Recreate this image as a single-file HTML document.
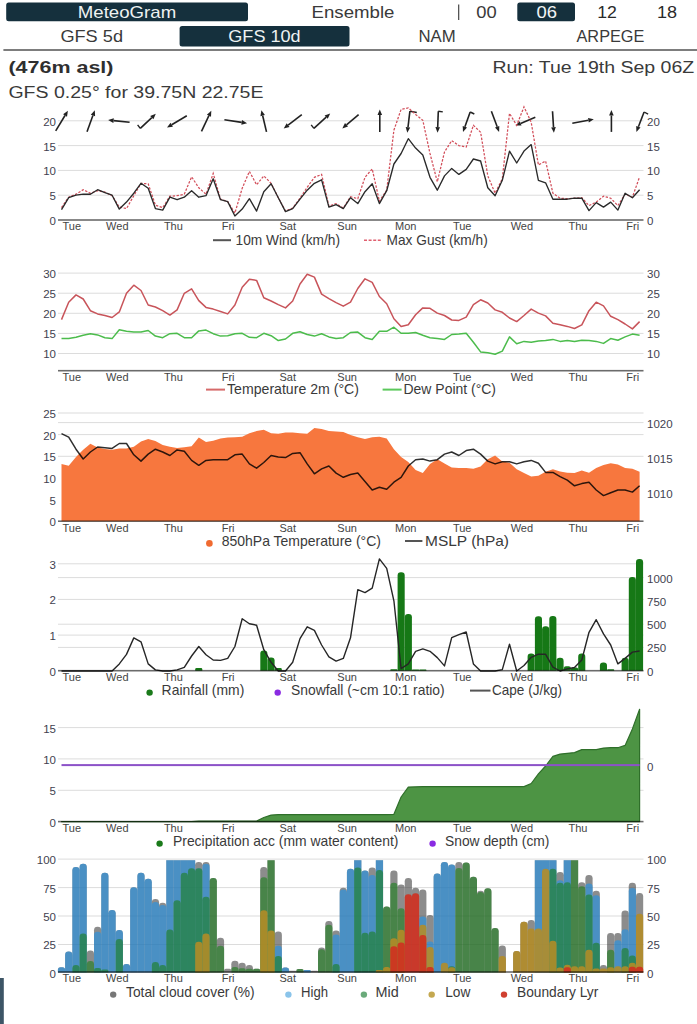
<!DOCTYPE html>
<html><head><meta charset="utf-8"><title>MeteoGram</title>
<style>
html,body{margin:0;padding:0;background:#fff;}
body{width:697px;height:1024px;overflow:hidden;font-family:"Liberation Sans", sans-serif;}
svg{display:block;}
text{font-family:"Liberation Sans", sans-serif;}
</style></head><body>
<svg width="697" height="1024" viewBox="0 0 697 1024">
<rect width="697" height="1024" fill="#fff"/>
<rect x="6.2" y="2.4" width="241.8" height="18.8" rx="2.5" fill="#15303d"/>
<rect x="179.6" y="26.1" width="169.9" height="20.5" rx="2.5" fill="#15303d"/>
<rect x="517.3" y="2.4" width="57.7" height="18.8" rx="2.5" fill="#15303d"/>
<text x="77.8" y="18.0" font-size="16.2" fill="#eef2f2" text-anchor="start" textLength="98.4" lengthAdjust="spacingAndGlyphs">MeteoGram</text>
<text x="311.6" y="18.0" font-size="16.2" fill="#3a3a3a" text-anchor="start" textLength="82.8" lengthAdjust="spacingAndGlyphs">Ensemble</text>
<rect x="458.0" y="4.5" width="1.3" height="15.5" fill="#555"/>
<text x="476.2" y="18.0" font-size="16.2" fill="#3a3a3a" text-anchor="start" textLength="20.4" lengthAdjust="spacingAndGlyphs">00</text>
<text x="536.4" y="18.0" font-size="16.2" fill="#f2f4f4" text-anchor="start" textLength="20.5" lengthAdjust="spacingAndGlyphs">06</text>
<text x="597.2" y="18.0" font-size="16.2" fill="#2a2a2a" text-anchor="start" textLength="19.7" lengthAdjust="spacingAndGlyphs">12</text>
<text x="657.0" y="18.0" font-size="16.2" fill="#2a2a2a" text-anchor="start" textLength="20.1" lengthAdjust="spacingAndGlyphs">18</text>
<text x="60.4" y="42.2" font-size="16.2" fill="#3a3a3a" text-anchor="start" textLength="62.6" lengthAdjust="spacingAndGlyphs">GFS 5d</text>
<text x="228.3" y="42.2" font-size="16.2" fill="#eef2f2" text-anchor="start" textLength="72.4" lengthAdjust="spacingAndGlyphs">GFS 10d</text>
<text x="418.5" y="42.2" font-size="16.2" fill="#3a3a3a" text-anchor="start" textLength="37.2" lengthAdjust="spacingAndGlyphs">NAM</text>
<text x="576.5" y="42.2" font-size="16.2" fill="#3a3a3a" text-anchor="start" textLength="67.9" lengthAdjust="spacingAndGlyphs">ARPEGE</text>
<rect x="3.4" y="49.0" width="693.6" height="2.0" fill="#7d7d7d"/>
<text x="8.4" y="72.5" font-size="16" fill="#2f2f2f" text-anchor="start" font-weight="bold" textLength="105.1" lengthAdjust="spacingAndGlyphs">(476m asl)</text>
<text x="492.5" y="72.5" font-size="16" fill="#3a3a3a" text-anchor="start" textLength="201.7" lengthAdjust="spacingAndGlyphs">Run: Tue 19th Sep 06Z</text>
<text x="8.4" y="97.8" font-size="16" fill="#3a3a3a" text-anchor="start" textLength="255.1" lengthAdjust="spacingAndGlyphs">GFS 0.25° for 39.75N 22.75E</text>
<rect x="0" y="978" width="3.8" height="46" fill="#3d5566"/>
<rect x="58.0" y="194.7" width="585.5" height="1" fill="#dcdcdc"/>
<rect x="58.0" y="169.9" width="585.5" height="1" fill="#dcdcdc"/>
<rect x="58.0" y="145.1" width="585.5" height="1" fill="#dcdcdc"/>
<rect x="58.0" y="120.3" width="585.5" height="1" fill="#dcdcdc"/>
<text x="56.0" y="224.9" font-size="11.5" fill="#3f3f4f" text-anchor="end">0</text>
<text x="56.0" y="200.1" font-size="11.5" fill="#3f3f4f" text-anchor="end">5</text>
<text x="56.0" y="175.3" font-size="11.5" fill="#3f3f4f" text-anchor="end">10</text>
<text x="56.0" y="150.5" font-size="11.5" fill="#3f3f4f" text-anchor="end">15</text>
<text x="56.0" y="125.7" font-size="11.5" fill="#3f3f4f" text-anchor="end">20</text>
<text x="647.0" y="224.9" font-size="11.5" fill="#3f3f4f" text-anchor="start">0</text>
<text x="647.0" y="200.1" font-size="11.5" fill="#3f3f4f" text-anchor="start">5</text>
<text x="647.0" y="175.3" font-size="11.5" fill="#3f3f4f" text-anchor="start">10</text>
<text x="647.0" y="150.5" font-size="11.5" fill="#3f3f4f" text-anchor="start">15</text>
<text x="647.0" y="125.7" font-size="11.5" fill="#3f3f4f" text-anchor="start">20</text>
<line x1="55.7" y1="130.8" x2="65.0" y2="115.5" stroke="#222" stroke-width="1.6"/>
<polygon points="67.9,110.8 67.0,116.7 63.1,114.3" fill="#222"/>
<line x1="87.0" y1="131.8" x2="92.9" y2="115.5" stroke="#222" stroke-width="1.6"/>
<polygon points="94.8,110.3 95.1,116.3 90.8,114.7" fill="#222"/>
<line x1="129.6" y1="122.2" x2="113.6" y2="120.6" stroke="#222" stroke-width="1.6"/>
<polygon points="108.1,120.1 113.8,118.3 113.4,122.9" fill="#222"/>
<line x1="140.3" y1="128.4" x2="151.8" y2="117.6" stroke="#222" stroke-width="1.6"/>
<polygon points="155.8,113.8 153.4,119.2 150.2,115.9" fill="#222"/>
<line x1="140.3" y1="128.4" x2="137.6" y2="124.8" stroke="#222" stroke-width="1.4"/>
<line x1="186.8" y1="115.8" x2="171.7" y2="124.7" stroke="#222" stroke-width="1.6"/>
<polygon points="167.0,127.5 170.6,122.7 172.9,126.7" fill="#222"/>
<line x1="201.5" y1="131.3" x2="208.9" y2="115.7" stroke="#222" stroke-width="1.6"/>
<polygon points="211.3,110.7 211.0,116.7 206.9,114.7" fill="#222"/>
<line x1="224.4" y1="119.8" x2="241.7" y2="122.4" stroke="#222" stroke-width="1.6"/>
<polygon points="247.1,123.2 241.3,124.7 242.0,120.1" fill="#222"/>
<line x1="266.5" y1="131.9" x2="262.7" y2="115.7" stroke="#222" stroke-width="1.6"/>
<polygon points="261.4,110.3 264.9,115.1 260.4,116.2" fill="#222"/>
<line x1="301.8" y1="114.6" x2="288.1" y2="125.1" stroke="#222" stroke-width="1.6"/>
<polygon points="283.7,128.4 286.7,123.2 289.5,126.9" fill="#222"/>
<line x1="313.9" y1="128.4" x2="326.2" y2="117.1" stroke="#222" stroke-width="1.6"/>
<polygon points="330.2,113.4 327.7,118.8 324.6,115.4" fill="#222"/>
<line x1="313.9" y1="128.4" x2="311.2" y2="124.8" stroke="#222" stroke-width="1.4"/>
<line x1="358.6" y1="114.6" x2="346.5" y2="124.8" stroke="#222" stroke-width="1.6"/>
<polygon points="342.3,128.4 345.0,123.1 348.0,126.6" fill="#222"/>
<line x1="379.8" y1="131.9" x2="379.8" y2="115.0" stroke="#222" stroke-width="1.6"/>
<polygon points="379.8,109.5 382.1,115.0 377.5,115.0" fill="#222"/>
<line x1="409.9" y1="111.2" x2="408.0" y2="127.2" stroke="#222" stroke-width="1.6"/>
<polygon points="407.3,132.7 405.7,127.0 410.2,127.5" fill="#222"/>
<line x1="409.9" y1="111.2" x2="416.8" y2="112.5" stroke="#222" stroke-width="1.4"/>
<line x1="438.3" y1="111.2" x2="437.7" y2="127.2" stroke="#222" stroke-width="1.6"/>
<polygon points="437.5,132.7 435.4,127.1 440.0,127.3" fill="#222"/>
<line x1="438.3" y1="111.2" x2="442.8" y2="111.9" stroke="#222" stroke-width="1.4"/>
<line x1="470.2" y1="112.0" x2="464.9" y2="126.7" stroke="#222" stroke-width="1.6"/>
<polygon points="463.0,131.9 462.7,125.9 467.0,127.5" fill="#222"/>
<line x1="470.2" y1="112.0" x2="474.3" y2="114.0" stroke="#222" stroke-width="1.4"/>
<line x1="491.4" y1="111.2" x2="497.2" y2="126.7" stroke="#222" stroke-width="1.6"/>
<polygon points="499.1,131.9 495.0,127.5 499.3,125.9" fill="#222"/>
<line x1="535.3" y1="117.2" x2="520.6" y2="123.4" stroke="#222" stroke-width="1.6"/>
<polygon points="515.5,125.5 519.7,121.3 521.5,125.5" fill="#222"/>
<line x1="552.5" y1="111.2" x2="553.5" y2="127.2" stroke="#222" stroke-width="1.6"/>
<polygon points="553.9,132.7 551.2,127.4 555.8,127.1" fill="#222"/>
<line x1="572.3" y1="123.2" x2="588.4" y2="120.3" stroke="#222" stroke-width="1.6"/>
<polygon points="593.8,119.3 588.8,122.5 588.0,118.0" fill="#222"/>
<line x1="611.4" y1="131.9" x2="611.4" y2="115.5" stroke="#222" stroke-width="1.6"/>
<polygon points="611.4,110.0 613.7,115.5 609.1,115.5" fill="#222"/>
<line x1="644.1" y1="112.0" x2="638.4" y2="126.8" stroke="#222" stroke-width="1.6"/>
<polygon points="636.4,131.9 636.2,125.9 640.5,127.6" fill="#222"/>
<line x1="644.1" y1="112.0" x2="648.1" y2="114.1" stroke="#222" stroke-width="1.4"/>
<polyline points="61.5,207.6 68.7,197.2 76.0,194.2 83.2,189.7 90.4,193.2 97.6,190.7 104.9,192.2 112.1,195.7 119.3,207.1 126.5,208.6 133.8,195.7 141.0,183.3 148.2,183.8 155.4,205.1 162.7,207.6 169.9,196.2 177.1,195.7 184.3,194.2 191.6,176.8 198.8,187.8 206.0,194.2 213.2,173.4 220.5,199.2 227.7,201.6 234.9,213.1 242.2,188.3 249.4,171.4 256.6,184.8 263.8,175.9 271.1,183.3 278.3,197.7 285.5,211.1 292.7,208.1 300.0,198.2 307.2,187.3 314.4,177.3 321.6,174.4 328.9,206.1 336.1,203.6 343.3,208.1 350.5,196.7 357.8,198.7 365.0,177.3 372.2,168.9 379.4,201.2 386.7,190.2 393.9,130.2 401.1,109.4 408.3,107.9 415.6,114.4 422.8,120.3 430.0,153.5 437.3,181.8 444.5,152.0 451.7,140.6 458.9,145.6 466.2,147.1 473.4,125.3 480.6,132.2 487.8,175.9 495.1,193.2 502.3,178.8 509.5,113.4 516.7,125.3 524.0,106.9 531.2,122.3 538.4,164.9 545.6,161.0 552.9,193.2 560.1,198.2 567.3,198.7 574.5,198.2 581.8,197.7 589.0,205.6 596.2,202.1 603.5,196.2 610.7,198.2 617.9,205.6 625.1,194.2 632.4,197.2 639.6,176.8" fill="none" stroke="#d24e5a" stroke-width="1.25" stroke-dasharray="2.4,1.5"/>
<polyline points="61.5,209.6 68.7,197.7 76.0,195.2 83.2,194.2 90.4,194.2 97.6,189.7 104.9,192.7 112.1,195.2 119.3,209.1 126.5,202.1 133.8,193.2 141.0,183.3 148.2,188.3 155.4,208.6 162.7,210.1 169.9,197.2 177.1,199.7 184.3,197.2 191.6,190.7 198.8,197.2 206.0,195.7 213.2,178.8 220.5,199.7 227.7,201.6 234.9,216.0 242.2,209.1 249.4,198.7 256.6,211.1 263.8,191.7 271.1,183.8 278.3,197.7 285.5,211.6 292.7,208.6 300.0,199.2 307.2,190.2 314.4,183.3 321.6,179.8 328.9,207.1 336.1,204.6 343.3,208.6 350.5,197.7 357.8,203.6 365.0,191.7 372.2,183.8 379.4,203.6 386.7,190.7 393.9,164.0 401.1,153.5 408.3,138.7 415.6,148.1 422.8,155.0 430.0,177.3 437.3,190.2 444.5,175.9 451.7,168.4 458.9,174.4 466.2,169.4 473.4,159.0 480.6,161.0 487.8,187.8 495.1,195.7 502.3,180.3 509.5,151.1 516.7,163.0 524.0,151.1 531.2,144.6 538.4,180.3 545.6,182.8 552.9,199.2 560.1,199.2 567.3,199.2 574.5,198.2 581.8,198.2 589.0,210.6 596.2,202.6 603.5,207.1 610.7,202.1 617.9,210.1 625.1,193.2 632.4,197.7 639.6,189.7" fill="none" stroke="#2a2a2a" stroke-width="1.35" stroke-linejoin="round"/>
<rect x="58.0" y="219.20" width="585.5" height="1.6" fill="#000" fill-opacity="0.58"/>
<text x="62.5" y="230.2" font-size="11" fill="#444" text-anchor="start">Tue</text>
<text x="106.1" y="230.2" font-size="11" fill="#444" text-anchor="start">Wed</text>
<text x="163.9" y="230.2" font-size="11" fill="#444" text-anchor="start">Thu</text>
<text x="221.7" y="230.2" font-size="11" fill="#444" text-anchor="start">Fri</text>
<text x="279.5" y="230.2" font-size="11" fill="#444" text-anchor="start">Sat</text>
<text x="337.3" y="230.2" font-size="11" fill="#444" text-anchor="start">Sun</text>
<text x="395.1" y="230.2" font-size="11" fill="#444" text-anchor="start">Mon</text>
<text x="452.9" y="230.2" font-size="11" fill="#444" text-anchor="start">Tue</text>
<text x="510.7" y="230.2" font-size="11" fill="#444" text-anchor="start">Wed</text>
<text x="568.5" y="230.2" font-size="11" fill="#444" text-anchor="start">Thu</text>
<text x="626.3" y="230.2" font-size="11" fill="#444" text-anchor="start">Fri</text>
<rect x="213" y="239.2" width="18" height="2" fill="#555"/>
<text x="235.5" y="244.5" font-size="14.3" fill="#3a3a3a" text-anchor="start" textLength="104.5" lengthAdjust="spacingAndGlyphs">10m Wind (km/h)</text>
<line x1="364" y1="240.2" x2="382" y2="240.2" stroke="#e06070" stroke-width="1.6" stroke-dasharray="3,1.6"/>
<text x="386.6" y="244.5" font-size="14.3" fill="#3a3a3a" text-anchor="start" textLength="101.1" lengthAdjust="spacingAndGlyphs">Max Gust (km/h)</text>
<rect x="58.0" y="353.0" width="585.5" height="1" fill="#dcdcdc"/>
<rect x="58.0" y="332.9" width="585.5" height="1" fill="#dcdcdc"/>
<rect x="58.0" y="312.8" width="585.5" height="1" fill="#dcdcdc"/>
<rect x="58.0" y="292.7" width="585.5" height="1" fill="#dcdcdc"/>
<rect x="58.0" y="272.6" width="585.5" height="1" fill="#dcdcdc"/>
<text x="56.0" y="358.4" font-size="11.5" fill="#3f3f4f" text-anchor="end">10</text>
<text x="56.0" y="338.3" font-size="11.5" fill="#3f3f4f" text-anchor="end">15</text>
<text x="56.0" y="318.2" font-size="11.5" fill="#3f3f4f" text-anchor="end">20</text>
<text x="56.0" y="298.1" font-size="11.5" fill="#3f3f4f" text-anchor="end">25</text>
<text x="56.0" y="278.0" font-size="11.5" fill="#3f3f4f" text-anchor="end">30</text>
<text x="647.0" y="358.4" font-size="11.5" fill="#3f3f4f" text-anchor="start">10</text>
<text x="647.0" y="338.3" font-size="11.5" fill="#3f3f4f" text-anchor="start">15</text>
<text x="647.0" y="318.2" font-size="11.5" fill="#3f3f4f" text-anchor="start">20</text>
<text x="647.0" y="298.1" font-size="11.5" fill="#3f3f4f" text-anchor="start">25</text>
<text x="647.0" y="278.0" font-size="11.5" fill="#3f3f4f" text-anchor="start">30</text>
<polyline points="61.5,338.6 68.7,338.6 76.0,337.3 83.2,335.3 90.4,333.7 97.6,334.9 104.9,337.7 112.1,338.6 119.3,329.7 126.5,331.3 133.8,332.1 141.0,332.1 148.2,330.5 155.4,336.1 162.7,337.7 169.9,333.7 177.1,333.3 184.3,337.7 191.6,337.7 198.8,330.9 206.0,330.1 213.2,333.7 220.5,336.1 227.7,335.7 234.9,333.7 242.2,333.3 249.4,337.3 256.6,337.7 263.8,333.3 271.1,335.7 278.3,340.6 285.5,339.0 292.7,333.3 300.0,331.7 307.2,334.5 314.4,336.1 321.6,333.7 328.9,336.9 336.1,338.6 343.3,337.7 350.5,332.5 357.8,332.1 365.0,337.7 372.2,339.4 379.4,331.3 386.7,331.3 393.9,327.2 401.1,333.3 408.3,333.3 415.6,332.5 422.8,335.3 430.0,337.7 437.3,338.6 444.5,339.4 451.7,334.5 458.9,334.1 466.2,333.3 473.4,342.2 480.6,351.9 487.8,352.7 495.1,354.3 502.3,351.1 509.5,336.9 516.7,343.8 524.0,341.4 531.2,342.2 538.4,341.0 545.6,340.6 552.9,339.4 560.1,341.4 567.3,340.6 574.5,341.4 581.8,340.2 589.0,340.6 596.2,341.4 603.5,343.4 610.7,338.6 617.9,340.2 625.1,336.9 632.4,334.1 639.6,335.3" fill="none" stroke="#4cbc4c" stroke-width="1.5" stroke-linejoin="round"/>
<polyline points="61.5,319.6 68.7,302.2 76.0,294.9 83.2,299.0 90.4,310.7 97.6,313.9 104.9,315.5 112.1,317.5 119.3,311.9 126.5,293.3 133.8,285.2 141.0,290.5 148.2,305.0 155.4,307.0 162.7,310.7 169.9,315.1 177.1,309.9 184.3,293.3 191.6,288.9 198.8,300.6 206.0,307.4 213.2,309.1 220.5,311.5 227.7,313.9 234.9,305.0 242.2,287.2 249.4,279.2 256.6,280.4 263.8,297.8 271.1,301.0 278.3,304.6 285.5,307.9 292.7,301.0 300.0,284.0 307.2,274.3 314.4,277.1 321.6,294.1 328.9,298.6 336.1,302.6 343.3,306.2 350.5,302.2 357.8,288.5 365.0,278.8 372.2,282.4 379.4,296.5 386.7,303.8 393.9,318.8 401.1,326.4 408.3,324.8 415.6,314.7 422.8,307.9 430.0,308.3 437.3,313.1 444.5,315.5 451.7,320.0 458.9,320.4 466.2,317.1 473.4,304.6 480.6,299.8 487.8,303.0 495.1,309.9 502.3,312.3 509.5,318.0 516.7,321.6 524.0,315.5 531.2,309.1 538.4,313.1 545.6,315.9 552.9,323.2 560.1,324.8 567.3,326.4 574.5,328.5 581.8,324.8 589.0,310.7 596.2,302.2 603.5,305.8 610.7,316.3 617.9,319.6 625.1,324.0 632.4,328.9 639.6,321.6" fill="none" stroke="#c8545a" stroke-width="1.5" stroke-linejoin="round"/>
<rect x="58.0" y="369.90" width="585.5" height="1.6" fill="#000" fill-opacity="0.58"/>
<text x="62.5" y="381.0" font-size="11" fill="#444" text-anchor="start">Tue</text>
<text x="106.1" y="381.0" font-size="11" fill="#444" text-anchor="start">Wed</text>
<text x="163.9" y="381.0" font-size="11" fill="#444" text-anchor="start">Thu</text>
<text x="221.7" y="381.0" font-size="11" fill="#444" text-anchor="start">Fri</text>
<text x="279.5" y="381.0" font-size="11" fill="#444" text-anchor="start">Sat</text>
<text x="337.3" y="381.0" font-size="11" fill="#444" text-anchor="start">Sun</text>
<text x="395.1" y="381.0" font-size="11" fill="#444" text-anchor="start">Mon</text>
<text x="452.9" y="381.0" font-size="11" fill="#444" text-anchor="start">Tue</text>
<text x="510.7" y="381.0" font-size="11" fill="#444" text-anchor="start">Wed</text>
<text x="568.5" y="381.0" font-size="11" fill="#444" text-anchor="start">Thu</text>
<text x="626.3" y="381.0" font-size="11" fill="#444" text-anchor="start">Fri</text>
<rect x="206" y="388.6" width="19" height="2" fill="#d66a6a"/>
<text x="227.0" y="393.8" font-size="14.3" fill="#3a3a3a" text-anchor="start" textLength="132.0" lengthAdjust="spacingAndGlyphs">Temperature 2m (°C)</text>
<rect x="382.6" y="388.6" width="19" height="2" fill="#5cc85c"/>
<text x="403.5" y="393.8" font-size="14.3" fill="#3a3a3a" text-anchor="start" textLength="92.5" lengthAdjust="spacingAndGlyphs">Dew Point (°C)</text>
<rect x="58.0" y="455.8" width="585.5" height="1" fill="#dcdcdc"/>
<rect x="58.0" y="434.1" width="585.5" height="1" fill="#dcdcdc"/>
<rect x="58.0" y="412.5" width="585.5" height="1" fill="#dcdcdc"/>
<rect x="58.0" y="422.1" width="585.5" height="1" fill="#dcdcdc"/>
<text x="56.0" y="526.1" font-size="11.5" fill="#3f3f4f" text-anchor="end">0</text>
<text x="56.0" y="504.5" font-size="11.5" fill="#3f3f4f" text-anchor="end">5</text>
<text x="56.0" y="482.8" font-size="11.5" fill="#3f3f4f" text-anchor="end">10</text>
<text x="56.0" y="461.2" font-size="11.5" fill="#3f3f4f" text-anchor="end">15</text>
<text x="56.0" y="439.5" font-size="11.5" fill="#3f3f4f" text-anchor="end">20</text>
<text x="56.0" y="417.9" font-size="11.5" fill="#3f3f4f" text-anchor="end">25</text>
<text x="647.0" y="498.3" font-size="11.5" fill="#3f3f4f" text-anchor="start">1010</text>
<text x="647.0" y="462.9" font-size="11.5" fill="#3f3f4f" text-anchor="start">1015</text>
<text x="647.0" y="427.5" font-size="11.5" fill="#3f3f4f" text-anchor="start">1020</text>
<polygon points="61.5,521.2 61.5,464.0 68.7,465.8 76.0,457.1 83.2,449.8 90.4,443.7 97.6,447.6 104.9,448.9 112.1,449.8 119.3,448.5 126.5,448.5 133.8,446.7 141.0,441.5 148.2,438.9 155.4,441.1 162.7,445.0 169.9,446.7 177.1,448.0 184.3,447.2 191.6,446.3 198.8,437.6 206.0,442.0 213.2,440.7 220.5,438.5 227.7,437.6 234.9,437.2 242.2,436.8 249.4,433.3 256.6,431.1 263.8,429.8 271.1,433.3 278.3,433.7 285.5,432.4 292.7,432.4 300.0,433.3 307.2,433.7 314.4,428.1 321.6,429.0 328.9,431.1 336.1,431.6 343.3,432.0 350.5,435.0 357.8,437.2 365.0,438.9 372.2,437.2 379.4,436.8 386.7,438.5 393.9,449.3 401.1,457.1 408.3,461.9 415.6,470.1 422.8,473.1 430.0,464.0 437.3,459.3 444.5,463.6 451.7,467.5 458.9,467.9 466.2,467.9 473.4,468.8 480.6,466.6 487.8,459.3 495.1,455.4 502.3,461.4 509.5,462.7 516.7,469.2 524.0,473.1 531.2,476.6 538.4,475.7 545.6,471.8 552.9,469.2 560.1,471.4 567.3,472.7 574.5,473.1 581.8,470.5 589.0,472.7 596.2,467.9 603.5,464.9 610.7,463.2 617.9,464.5 625.1,467.9 632.4,468.8 639.6,471.8 639.6,521.2" fill="#f7773e"/>
<polyline points="61.5,433.7 68.7,437.2 76.0,449.2 83.2,459.0 90.4,452.0 97.6,447.0 104.9,447.7 112.1,448.4 119.3,443.5 126.5,443.5 133.8,454.8 141.0,461.1 148.2,454.1 155.4,449.2 162.7,452.0 169.9,455.5 177.1,449.9 184.3,451.3 191.6,460.4 198.8,465.3 206.0,460.4 213.2,459.7 220.5,459.7 227.7,459.7 234.9,454.8 242.2,454.1 249.4,463.9 256.6,468.2 263.8,462.5 271.1,455.5 278.3,456.9 285.5,457.6 292.7,453.4 300.0,452.7 307.2,463.9 314.4,473.8 321.6,468.9 328.9,466.0 336.1,473.1 343.3,477.3 350.5,474.5 357.8,473.1 365.0,481.5 372.2,490.0 379.4,487.2 386.7,489.3 393.9,482.2 401.1,477.3 408.3,466.0 415.6,459.7 422.8,459.0 430.0,461.1 437.3,459.7 444.5,454.1 451.7,452.0 458.9,455.5 466.2,450.6 473.4,449.2 480.6,454.1 487.8,461.1 495.1,463.9 502.3,461.8 509.5,461.8 516.7,463.9 524.0,461.8 531.2,460.4 538.4,463.2 545.6,472.4 552.9,472.4 560.1,476.6 567.3,480.1 574.5,485.8 581.8,483.6 589.0,482.2 596.2,490.0 603.5,495.6 610.7,492.8 617.9,490.0 625.1,490.0 632.4,492.1 639.6,485.8" fill="none" stroke="#000" stroke-opacity="0.82" stroke-width="1.5" stroke-linejoin="round"/>
<rect x="58.0" y="520.40" width="585.5" height="1.6" fill="#000" fill-opacity="0.58"/>
<text x="62.5" y="531.6" font-size="11" fill="#444" text-anchor="start">Tue</text>
<text x="106.1" y="531.6" font-size="11" fill="#444" text-anchor="start">Wed</text>
<text x="163.9" y="531.6" font-size="11" fill="#444" text-anchor="start">Thu</text>
<text x="221.7" y="531.6" font-size="11" fill="#444" text-anchor="start">Fri</text>
<text x="279.5" y="531.6" font-size="11" fill="#444" text-anchor="start">Sat</text>
<text x="337.3" y="531.6" font-size="11" fill="#444" text-anchor="start">Sun</text>
<text x="395.1" y="531.6" font-size="11" fill="#444" text-anchor="start">Mon</text>
<text x="452.9" y="531.6" font-size="11" fill="#444" text-anchor="start">Tue</text>
<text x="510.7" y="531.6" font-size="11" fill="#444" text-anchor="start">Wed</text>
<text x="568.5" y="531.6" font-size="11" fill="#444" text-anchor="start">Thu</text>
<text x="626.3" y="531.6" font-size="11" fill="#444" text-anchor="start">Fri</text>
<circle cx="209.4" cy="543.4" r="3.3" fill="#f06a30"/>
<text x="221.7" y="545.5" font-size="14.3" fill="#3a3a3a" text-anchor="start" textLength="159.3" lengthAdjust="spacingAndGlyphs">850hPa Temperature (°C)</text>
<rect x="405" y="540.0" width="17.4" height="2" fill="#555"/>
<text x="425.0" y="545.5" font-size="14.3" fill="#3a3a3a" text-anchor="start" textLength="84.0" lengthAdjust="spacingAndGlyphs">MSLP (hPa)</text>
<rect x="58.0" y="634.6" width="585.5" height="1" fill="#dcdcdc"/>
<rect x="58.0" y="598.9" width="585.5" height="1" fill="#dcdcdc"/>
<rect x="58.0" y="563.3" width="585.5" height="1" fill="#dcdcdc"/>
<rect x="58.0" y="646.9" width="585.5" height="1" fill="#dcdcdc"/>
<rect x="58.0" y="623.7" width="585.5" height="1" fill="#dcdcdc"/>
<rect x="58.0" y="577.1" width="585.5" height="1" fill="#dcdcdc"/>
<text x="56.0" y="675.6" font-size="11.5" fill="#3f3f4f" text-anchor="end">0</text>
<text x="56.0" y="640.0" font-size="11.5" fill="#3f3f4f" text-anchor="end">1</text>
<text x="56.0" y="604.3" font-size="11.5" fill="#3f3f4f" text-anchor="end">2</text>
<text x="56.0" y="568.7" font-size="11.5" fill="#3f3f4f" text-anchor="end">3</text>
<text x="647.0" y="675.6" font-size="11.5" fill="#3f3f4f" text-anchor="start">0</text>
<text x="647.0" y="652.3" font-size="11.5" fill="#3f3f4f" text-anchor="start">250</text>
<text x="647.0" y="629.1" font-size="11.5" fill="#3f3f4f" text-anchor="start">500</text>
<text x="647.0" y="605.8" font-size="11.5" fill="#3f3f4f" text-anchor="start">750</text>
<text x="647.0" y="582.5" font-size="11.5" fill="#3f3f4f" text-anchor="start">1000</text>
<path d="M195.2,670.7 V669.4 Q195.2,668.1 196.5,668.1 H201.1 Q202.3,668.1 202.3,669.4 V670.7 Z" fill="#167816"/>
<path d="M260.3,670.7 V653.8 Q260.3,650.6 263.5,650.6 H264.2 Q267.4,650.6 267.4,653.8 V670.7 Z" fill="#167816"/>
<path d="M267.5,670.7 V660.6 Q267.5,657.4 270.7,657.4 H271.4 Q274.6,657.4 274.6,660.6 V670.7 Z" fill="#167816"/>
<path d="M274.7,670.7 V669.4 Q274.7,668.1 276.0,668.1 H280.5 Q281.8,668.1 281.8,669.4 V670.7 Z" fill="#167816"/>
<path d="M390.3,670.7 V670.0 Q390.3,669.2 391.1,669.2 H396.7 Q397.4,669.2 397.4,670.0 V670.7 Z" fill="#167816"/>
<path d="M397.6,670.7 V575.5 Q397.6,572.3 400.8,572.3 H401.5 Q404.7,572.3 404.7,575.5 V670.7 Z" fill="#167816"/>
<path d="M404.8,670.7 V617.3 Q404.8,614.1 408.0,614.1 H408.7 Q411.9,614.1 411.9,617.3 V670.7 Z" fill="#167816"/>
<path d="M412.0,670.7 V670.1 Q412.0,669.6 412.6,669.6 H418.6 Q419.1,669.6 419.1,670.1 V670.7 Z" fill="#167816"/>
<path d="M419.2,670.7 V670.1 Q419.2,669.6 419.8,669.6 H425.8 Q426.4,669.6 426.4,670.1 V670.7 Z" fill="#167816"/>
<path d="M527.6,670.7 V656.7 Q527.6,653.5 530.8,653.5 H531.5 Q534.7,653.5 534.7,656.7 V670.7 Z" fill="#167816"/>
<path d="M534.9,670.7 V619.5 Q534.9,616.3 538.1,616.3 H538.8 Q542.0,616.3 542.0,619.5 V670.7 Z" fill="#167816"/>
<path d="M542.1,670.7 V629.5 Q542.1,626.3 545.3,626.3 H546.0 Q549.2,626.3 549.2,629.5 V670.7 Z" fill="#167816"/>
<path d="M549.3,670.7 V619.1 Q549.3,615.9 552.5,615.9 H553.2 Q556.4,615.9 556.4,619.1 V670.7 Z" fill="#167816"/>
<path d="M556.5,670.7 V661.0 Q556.5,657.8 559.7,657.8 H560.4 Q563.6,657.8 563.6,661.0 V670.7 Z" fill="#167816"/>
<path d="M563.8,670.7 V668.5 Q563.8,666.3 565.9,666.3 H568.7 Q570.9,666.3 570.9,668.5 V670.7 Z" fill="#167816"/>
<path d="M571.0,670.7 V669.1 Q571.0,667.4 572.6,667.4 H576.5 Q578.1,667.4 578.1,669.1 V670.7 Z" fill="#167816"/>
<path d="M578.2,670.7 V656.7 Q578.2,653.5 581.4,653.5 H582.1 Q585.3,653.5 585.3,656.7 V670.7 Z" fill="#167816"/>
<path d="M599.9,670.7 V665.6 Q599.9,662.4 603.1,662.4 H603.8 Q607.0,662.4 607.0,665.6 V670.7 Z" fill="#167816"/>
<path d="M607.1,670.7 V670.0 Q607.1,669.2 607.9,669.2 H613.5 Q614.2,669.2 614.2,670.0 V670.7 Z" fill="#167816"/>
<path d="M621.6,670.7 V661.0 Q621.6,657.8 624.8,657.8 H625.5 Q628.7,657.8 628.7,661.0 V670.7 Z" fill="#167816"/>
<path d="M628.8,670.7 V580.1 Q628.8,576.9 632.0,576.9 H632.7 Q635.9,576.9 635.9,580.1 V670.7 Z" fill="#167816"/>
<path d="M636.0,670.7 V562.2 Q636.0,559.0 639.2,559.0 H639.9 Q643.1,559.0 643.1,562.2 V670.7 Z" fill="#167816"/>
<polyline points="61.5,671.0 68.7,671.0 76.0,671.0 83.2,671.0 90.4,671.0 97.6,671.0 104.9,671.0 112.1,671.0 119.3,663.9 126.5,654.4 133.8,637.9 141.0,641.8 148.2,663.9 155.4,669.9 162.7,671.0 169.9,671.0 177.1,669.9 184.3,667.4 191.6,656.0 198.8,646.5 206.0,654.7 213.2,660.0 220.5,660.4 227.7,658.4 234.9,646.5 242.2,618.7 249.4,623.8 256.6,625.2 263.8,649.7 271.1,662.3 278.3,671.0 285.5,671.0 292.7,662.3 300.0,638.6 307.2,626.8 314.4,630.4 321.6,645.0 328.9,656.8 336.1,661.1 343.3,658.4 350.5,637.8 357.8,589.7 365.0,592.6 372.2,588.1 379.4,558.9 386.7,568.4 393.9,600.8 401.1,668.6 408.3,663.9 415.6,651.3 422.8,648.9 430.0,651.3 437.3,657.6 444.5,665.9 451.7,637.7 458.9,634.7 466.2,632.0 473.4,663.9 480.6,671.0 487.8,671.0 495.1,671.0 502.3,669.6 509.5,644.2 516.7,671.0 524.0,665.5 531.2,657.3 538.4,654.1 545.6,654.3 552.9,667.1 560.1,671.0 567.3,668.9 574.5,667.5 581.8,660.0 589.0,632.3 596.2,619.7 603.5,633.9 610.7,645.0 617.9,663.9 625.1,658.4 632.4,652.1 639.6,651.0" fill="none" stroke="#262626" stroke-width="1.4" stroke-linejoin="round"/>
<rect x="58.0" y="669.90" width="585.5" height="1.6" fill="#000" fill-opacity="0.58"/>
<text x="62.5" y="681.0" font-size="11" fill="#444" text-anchor="start">Tue</text>
<text x="106.1" y="681.0" font-size="11" fill="#444" text-anchor="start">Wed</text>
<text x="163.9" y="681.0" font-size="11" fill="#444" text-anchor="start">Thu</text>
<text x="221.7" y="681.0" font-size="11" fill="#444" text-anchor="start">Fri</text>
<text x="279.5" y="681.0" font-size="11" fill="#444" text-anchor="start">Sat</text>
<text x="337.3" y="681.0" font-size="11" fill="#444" text-anchor="start">Sun</text>
<text x="395.1" y="681.0" font-size="11" fill="#444" text-anchor="start">Mon</text>
<text x="452.9" y="681.0" font-size="11" fill="#444" text-anchor="start">Tue</text>
<text x="510.7" y="681.0" font-size="11" fill="#444" text-anchor="start">Wed</text>
<text x="568.5" y="681.0" font-size="11" fill="#444" text-anchor="start">Thu</text>
<text x="626.3" y="681.0" font-size="11" fill="#444" text-anchor="start">Fri</text>
<circle cx="149.6" cy="692.6" r="3.2" fill="#1a7a1a"/>
<text x="161.6" y="695.0" font-size="14.3" fill="#3a3a3a" text-anchor="start" textLength="82.7" lengthAdjust="spacingAndGlyphs">Rainfall (mm)</text>
<circle cx="277.7" cy="692.6" r="3.2" fill="#8a2be2"/>
<text x="291.0" y="695.0" font-size="14.3" fill="#3a3a3a" text-anchor="start" textLength="153.7" lengthAdjust="spacingAndGlyphs">Snowfall (~cm 10:1 ratio)</text>
<rect x="470" y="689.6" width="20.5" height="2" fill="#555"/>
<text x="492.0" y="695.0" font-size="14.3" fill="#3a3a3a" text-anchor="start" textLength="70.0" lengthAdjust="spacingAndGlyphs">Cape (J/kg)</text>
<rect x="58.0" y="789.8" width="585.5" height="1" fill="#dcdcdc"/>
<rect x="58.0" y="758.4" width="585.5" height="1" fill="#dcdcdc"/>
<rect x="58.0" y="727.1" width="585.5" height="1" fill="#dcdcdc"/>
<text x="56.0" y="826.5" font-size="11.5" fill="#3f3f4f" text-anchor="end">0</text>
<text x="56.0" y="795.1" font-size="11.5" fill="#3f3f4f" text-anchor="end">5</text>
<text x="56.0" y="763.8" font-size="11.5" fill="#3f3f4f" text-anchor="end">10</text>
<text x="56.0" y="732.5" font-size="11.5" fill="#3f3f4f" text-anchor="end">15</text>
<text x="647.0" y="770.7" font-size="11.5" fill="#3f3f4f" text-anchor="start">0</text>
<polygon points="61.5,821.6 61.5,821.6 68.7,821.6 76.0,821.6 83.2,821.6 90.4,821.6 97.6,821.6 104.9,821.6 112.1,821.6 119.3,821.6 126.5,821.6 133.8,821.6 141.0,821.6 148.2,821.6 155.4,821.6 162.7,821.6 169.9,821.6 177.1,821.6 184.3,821.6 191.6,821.6 198.8,821.1 206.0,821.1 213.2,821.1 220.5,821.1 227.7,821.1 234.9,821.1 242.2,821.1 249.4,821.1 256.6,821.1 263.8,817.5 271.1,815.1 278.3,814.6 285.5,814.6 292.7,814.6 300.0,814.6 307.2,814.6 314.4,814.6 321.6,814.6 328.9,814.6 336.1,814.6 343.3,814.6 350.5,814.6 357.8,814.6 365.0,814.6 372.2,814.6 379.4,814.6 386.7,814.6 393.9,814.3 401.1,797.0 408.3,787.1 415.6,786.8 422.8,786.6 430.0,786.6 437.3,786.6 444.5,786.6 451.7,786.6 458.9,786.6 466.2,786.6 473.4,786.6 480.6,786.6 487.8,786.6 495.1,786.6 502.3,786.6 509.5,786.6 516.7,786.6 524.0,786.6 531.2,783.5 538.4,773.9 545.6,766.0 552.9,756.4 560.1,754.1 567.3,753.3 574.5,752.6 581.8,749.6 589.0,749.6 596.2,749.6 603.5,748.1 610.7,747.7 617.9,747.7 625.1,745.4 632.4,728.9 639.6,709.3 639.6,821.6" fill="#4d9444" stroke="#2f6f2a" stroke-width="1.2" stroke-linejoin="round"/>
<rect x="61.5" y="764.1" width="578.1" height="2" fill="#8c52c8"/>
<rect x="58.0" y="820.80" width="585.5" height="1.6" fill="#000" fill-opacity="0.58"/>
<text x="62.5" y="831.9" font-size="11" fill="#444" text-anchor="start">Tue</text>
<text x="106.1" y="831.9" font-size="11" fill="#444" text-anchor="start">Wed</text>
<text x="163.9" y="831.9" font-size="11" fill="#444" text-anchor="start">Thu</text>
<text x="221.7" y="831.9" font-size="11" fill="#444" text-anchor="start">Fri</text>
<text x="279.5" y="831.9" font-size="11" fill="#444" text-anchor="start">Sat</text>
<text x="337.3" y="831.9" font-size="11" fill="#444" text-anchor="start">Sun</text>
<text x="395.1" y="831.9" font-size="11" fill="#444" text-anchor="start">Mon</text>
<text x="452.9" y="831.9" font-size="11" fill="#444" text-anchor="start">Tue</text>
<text x="510.7" y="831.9" font-size="11" fill="#444" text-anchor="start">Wed</text>
<text x="568.5" y="831.9" font-size="11" fill="#444" text-anchor="start">Thu</text>
<text x="626.3" y="831.9" font-size="11" fill="#444" text-anchor="start">Fri</text>
<circle cx="159.6" cy="843.6" r="3.2" fill="#1a7a1a"/>
<text x="173.0" y="845.5" font-size="14.3" fill="#3a3a3a" text-anchor="start" textLength="225.5" lengthAdjust="spacingAndGlyphs">Precipitation acc (mm water content)</text>
<circle cx="432.6" cy="843.6" r="3.2" fill="#8a2be2"/>
<text x="445.0" y="845.5" font-size="14.3" fill="#3a3a3a" text-anchor="start" textLength="104.4" lengthAdjust="spacingAndGlyphs">Snow depth (cm)</text>
<rect x="58.0" y="944.0" width="585.5" height="1" fill="#dcdcdc"/>
<rect x="58.0" y="915.5" width="585.5" height="1" fill="#dcdcdc"/>
<rect x="58.0" y="887.1" width="585.5" height="1" fill="#dcdcdc"/>
<rect x="58.0" y="858.6" width="585.5" height="1" fill="#dcdcdc"/>
<text x="56.0" y="977.9" font-size="11.5" fill="#3f3f4f" text-anchor="end">0</text>
<text x="56.0" y="949.4" font-size="11.5" fill="#3f3f4f" text-anchor="end">25</text>
<text x="56.0" y="920.9" font-size="11.5" fill="#3f3f4f" text-anchor="end">50</text>
<text x="56.0" y="892.5" font-size="11.5" fill="#3f3f4f" text-anchor="end">75</text>
<text x="56.0" y="864.0" font-size="11.5" fill="#3f3f4f" text-anchor="end">100</text>
<text x="647.0" y="977.9" font-size="11.5" fill="#3f3f4f" text-anchor="start">0</text>
<text x="647.0" y="949.4" font-size="11.5" fill="#3f3f4f" text-anchor="start">25</text>
<text x="647.0" y="920.9" font-size="11.5" fill="#3f3f4f" text-anchor="start">50</text>
<text x="647.0" y="892.5" font-size="11.5" fill="#3f3f4f" text-anchor="start">75</text>
<text x="647.0" y="864.0" font-size="11.5" fill="#3f3f4f" text-anchor="start">100</text>
<clipPath id="cc"><rect x="0" y="860.3" width="697" height="120"/></clipPath>
<g clip-path="url(#cc)">
<path d="M57.89,972.5 V969.9 Q57.89,967.3 60.49,967.3 H62.51 Q65.11,967.3 65.11,969.9 V972.5 Z" fill="#3f3f3f" fill-opacity="0.6"/>
<path d="M65.11,972.5 V954.9 Q65.11,951.5 68.51,951.5 H68.94 Q72.34,951.5 72.34,954.9 V972.5 Z" fill="#3f3f3f" fill-opacity="0.6"/>
<path d="M72.34,972.5 V870.5 Q72.34,867.1 75.74,867.1 H76.16 Q79.56,867.1 79.56,870.5 V972.5 Z" fill="#3f3f3f" fill-opacity="0.6"/>
<path d="M79.56,972.5 V867.1 Q79.56,863.7 82.97,863.7 H83.39 Q86.79,863.7 86.79,867.1 V972.5 Z" fill="#3f3f3f" fill-opacity="0.6"/>
<path d="M86.79,972.5 V953.8 Q86.79,950.4 90.19,950.4 H90.62 Q94.02,950.4 94.02,953.8 V972.5 Z" fill="#3f3f3f" fill-opacity="0.6"/>
<path d="M94.02,972.5 V930.2 Q94.02,926.8 97.42,926.8 H97.84 Q101.24,926.8 101.24,930.2 V972.5 Z" fill="#3f3f3f" fill-opacity="0.6"/>
<path d="M101.24,972.5 V876.1 Q101.24,872.7 104.64,872.7 H105.07 Q108.47,872.7 108.47,876.1 V972.5 Z" fill="#3f3f3f" fill-opacity="0.6"/>
<path d="M108.47,972.5 V913.3 Q108.47,909.9 111.87,909.9 H112.29 Q115.69,909.9 115.69,913.3 V972.5 Z" fill="#3f3f3f" fill-opacity="0.6"/>
<path d="M115.69,972.5 V933.5 Q115.69,930.1 119.09,930.1 H119.52 Q122.92,930.1 122.92,933.5 V972.5 Z" fill="#3f3f3f" fill-opacity="0.6"/>
<path d="M122.92,972.5 V967.3 Q122.92,963.9 126.32,963.9 H126.75 Q130.15,963.9 130.15,967.3 V972.5 Z" fill="#3f3f3f" fill-opacity="0.6"/>
<path d="M130.15,972.5 V890.7 Q130.15,887.3 133.55,887.3 H133.97 Q137.37,887.3 137.37,890.7 V972.5 Z" fill="#3f3f3f" fill-opacity="0.6"/>
<path d="M137.37,972.5 V876.1 Q137.37,872.7 140.77,872.7 H141.20 Q144.60,872.7 144.60,876.1 V972.5 Z" fill="#3f3f3f" fill-opacity="0.6"/>
<path d="M144.60,972.5 V882.2 Q144.60,878.8 148.00,878.8 H148.42 Q151.82,878.8 151.82,882.2 V972.5 Z" fill="#3f3f3f" fill-opacity="0.6"/>
<path d="M151.82,972.5 V902.5 Q151.82,899.1 155.22,899.1 H155.65 Q159.05,899.1 159.05,902.5 V972.5 Z" fill="#3f3f3f" fill-opacity="0.6"/>
<path d="M159.05,972.5 V906.1 Q159.05,902.7 162.45,902.7 H162.88 Q166.28,902.7 166.28,906.1 V972.5 Z" fill="#3f3f3f" fill-opacity="0.6"/>
<path d="M166.28,972.5 V858.4 Q166.28,855.0 169.68,855.0 H170.10 Q173.50,855.0 173.50,858.4 V972.5 Z" fill="#3f3f3f" fill-opacity="0.6"/>
<path d="M173.50,972.5 V858.4 Q173.50,855.0 176.90,855.0 H177.33 Q180.73,855.0 180.73,858.4 V972.5 Z" fill="#3f3f3f" fill-opacity="0.6"/>
<path d="M180.73,972.5 V858.4 Q180.73,855.0 184.13,855.0 H184.55 Q187.95,855.0 187.95,858.4 V972.5 Z" fill="#3f3f3f" fill-opacity="0.6"/>
<path d="M187.96,972.5 V858.4 Q187.96,855.0 191.36,855.0 H191.78 Q195.18,855.0 195.18,858.4 V972.5 Z" fill="#3f3f3f" fill-opacity="0.6"/>
<path d="M195.18,972.5 V865.3 Q195.18,861.9 198.58,861.9 H199.01 Q202.41,861.9 202.41,865.3 V972.5 Z" fill="#3f3f3f" fill-opacity="0.6"/>
<path d="M202.41,972.5 V865.3 Q202.41,861.9 205.81,861.9 H206.23 Q209.63,861.9 209.63,865.3 V972.5 Z" fill="#3f3f3f" fill-opacity="0.6"/>
<path d="M209.63,972.5 V881.3 Q209.63,877.9 213.03,877.9 H213.46 Q216.86,877.9 216.86,881.3 V972.5 Z" fill="#3f3f3f" fill-opacity="0.6"/>
<path d="M216.86,972.5 V941.1 Q216.86,937.7 220.26,937.7 H220.69 Q224.09,937.7 224.09,941.1 V972.5 Z" fill="#3f3f3f" fill-opacity="0.6"/>
<path d="M224.09,972.5 V970.6 Q224.09,968.8 225.96,968.8 H229.44 Q231.31,968.8 231.31,970.6 V972.5 Z" fill="#3f3f3f" fill-opacity="0.6"/>
<path d="M231.31,972.5 V964.2 Q231.31,960.8 234.71,960.8 H235.14 Q238.54,960.8 238.54,964.2 V972.5 Z" fill="#3f3f3f" fill-opacity="0.6"/>
<path d="M238.54,972.5 V966.1 Q238.54,962.7 241.94,962.7 H242.36 Q245.76,962.7 245.76,966.1 V972.5 Z" fill="#3f3f3f" fill-opacity="0.6"/>
<path d="M245.76,972.5 V968.4 Q245.76,965.0 249.16,965.0 H249.59 Q252.99,965.0 252.99,968.4 V972.5 Z" fill="#3f3f3f" fill-opacity="0.6"/>
<path d="M252.99,972.5 V970.6 Q252.99,968.8 254.86,968.8 H258.34 Q260.21,968.8 260.21,970.6 V972.5 Z" fill="#3f3f3f" fill-opacity="0.6"/>
<path d="M260.21,972.5 V870.3 Q260.21,866.9 263.61,866.9 H264.04 Q267.44,866.9 267.44,870.3 V972.5 Z" fill="#3f3f3f" fill-opacity="0.6"/>
<path d="M267.44,972.5 V858.4 Q267.44,855.0 270.84,855.0 H271.27 Q274.67,855.0 274.67,858.4 V972.5 Z" fill="#3f3f3f" fill-opacity="0.6"/>
<path d="M274.67,972.5 V935.0 Q274.67,931.6 278.07,931.6 H278.49 Q281.89,931.6 281.89,935.0 V972.5 Z" fill="#3f3f3f" fill-opacity="0.6"/>
<path d="M281.89,972.5 V970.0 Q281.89,967.5 284.38,967.5 H286.63 Q289.12,967.5 289.12,970.0 V972.5 Z" fill="#3f3f3f" fill-opacity="0.6"/>
<path d="M289.12,972.5 V971.6 Q289.12,970.7 290.03,970.7 H295.43 Q296.34,970.7 296.34,971.6 V972.5 Z" fill="#3f3f3f" fill-opacity="0.6"/>
<path d="M296.34,972.5 V970.7 Q296.34,969.0 298.10,969.0 H301.81 Q303.57,969.0 303.57,970.7 V972.5 Z" fill="#3f3f3f" fill-opacity="0.6"/>
<path d="M303.57,972.5 V971.3 Q303.57,970.1 304.77,970.1 H309.60 Q310.80,970.1 310.80,971.3 V972.5 Z" fill="#3f3f3f" fill-opacity="0.6"/>
<path d="M310.80,972.5 V971.6 Q310.80,970.7 311.71,970.7 H317.11 Q318.02,970.7 318.02,971.6 V972.5 Z" fill="#3f3f3f" fill-opacity="0.6"/>
<path d="M318.02,972.5 V950.9 Q318.02,947.5 321.42,947.5 H321.85 Q325.25,947.5 325.25,950.9 V972.5 Z" fill="#3f3f3f" fill-opacity="0.6"/>
<path d="M325.25,972.5 V924.5 Q325.25,921.1 328.65,921.1 H329.08 Q332.48,921.1 332.48,924.5 V972.5 Z" fill="#3f3f3f" fill-opacity="0.6"/>
<path d="M332.48,972.5 V933.8 Q332.48,930.4 335.88,930.4 H336.30 Q339.70,930.4 339.70,933.8 V972.5 Z" fill="#3f3f3f" fill-opacity="0.6"/>
<path d="M339.70,972.5 V891.1 Q339.70,887.7 343.10,887.7 H343.53 Q346.93,887.7 346.93,891.1 V972.5 Z" fill="#3f3f3f" fill-opacity="0.6"/>
<path d="M346.93,972.5 V872.1 Q346.93,868.7 350.33,868.7 H350.75 Q354.15,868.7 354.15,872.1 V972.5 Z" fill="#3f3f3f" fill-opacity="0.6"/>
<path d="M354.15,972.5 V858.4 Q354.15,855.0 357.55,855.0 H357.98 Q361.38,855.0 361.38,858.4 V972.5 Z" fill="#3f3f3f" fill-opacity="0.6"/>
<path d="M361.38,972.5 V873.9 Q361.38,870.5 364.78,870.5 H365.21 Q368.61,870.5 368.61,873.9 V972.5 Z" fill="#3f3f3f" fill-opacity="0.6"/>
<path d="M368.61,972.5 V870.9 Q368.61,867.5 372.00,867.5 H372.43 Q375.83,867.5 375.83,870.9 V972.5 Z" fill="#3f3f3f" fill-opacity="0.6"/>
<path d="M375.83,972.5 V858.4 Q375.83,855.0 379.23,855.0 H379.66 Q383.06,855.0 383.06,858.4 V972.5 Z" fill="#3f3f3f" fill-opacity="0.6"/>
<path d="M383.06,972.5 V909.9 Q383.06,906.5 386.46,906.5 H386.88 Q390.28,906.5 390.28,909.9 V972.5 Z" fill="#3f3f3f" fill-opacity="0.6"/>
<path d="M390.28,972.5 V873.9 Q390.28,870.5 393.68,870.5 H394.11 Q397.51,870.5 397.51,873.9 V972.5 Z" fill="#3f3f3f" fill-opacity="0.6"/>
<path d="M397.51,972.5 V887.9 Q397.51,884.5 400.91,884.5 H401.34 Q404.74,884.5 404.74,887.9 V972.5 Z" fill="#3f3f3f" fill-opacity="0.6"/>
<path d="M404.74,972.5 V881.3 Q404.74,877.9 408.13,877.9 H408.56 Q411.96,877.9 411.96,881.3 V972.5 Z" fill="#3f3f3f" fill-opacity="0.6"/>
<path d="M411.96,972.5 V891.1 Q411.96,887.7 415.36,887.7 H415.79 Q419.19,887.7 419.19,891.1 V972.5 Z" fill="#3f3f3f" fill-opacity="0.6"/>
<path d="M419.19,972.5 V893.0 Q419.19,889.6 422.59,889.6 H423.01 Q426.41,889.6 426.41,893.0 V972.5 Z" fill="#3f3f3f" fill-opacity="0.6"/>
<path d="M426.41,972.5 V918.4 Q426.41,915.0 429.81,915.0 H430.24 Q433.64,915.0 433.64,918.4 V972.5 Z" fill="#3f3f3f" fill-opacity="0.6"/>
<path d="M433.64,972.5 V877.0 Q433.64,873.6 437.04,873.6 H437.47 Q440.87,873.6 440.87,877.0 V972.5 Z" fill="#3f3f3f" fill-opacity="0.6"/>
<path d="M440.87,972.5 V865.3 Q440.87,861.9 444.26,861.9 H444.69 Q448.09,861.9 448.09,865.3 V972.5 Z" fill="#3f3f3f" fill-opacity="0.6"/>
<path d="M448.09,972.5 V867.9 Q448.09,864.5 451.49,864.5 H451.92 Q455.32,864.5 455.32,867.9 V972.5 Z" fill="#3f3f3f" fill-opacity="0.6"/>
<path d="M455.32,972.5 V865.3 Q455.32,861.9 458.72,861.9 H459.14 Q462.54,861.9 462.54,865.3 V972.5 Z" fill="#3f3f3f" fill-opacity="0.6"/>
<path d="M462.54,972.5 V866.0 Q462.54,862.6 465.94,862.6 H466.37 Q469.77,862.6 469.77,866.0 V972.5 Z" fill="#3f3f3f" fill-opacity="0.6"/>
<path d="M469.77,972.5 V880.1 Q469.77,876.7 473.17,876.7 H473.60 Q477.00,876.7 477.00,880.1 V972.5 Z" fill="#3f3f3f" fill-opacity="0.6"/>
<path d="M477.00,972.5 V894.1 Q477.00,890.7 480.39,890.7 H480.82 Q484.22,890.7 484.22,894.1 V972.5 Z" fill="#3f3f3f" fill-opacity="0.6"/>
<path d="M484.22,972.5 V891.7 Q484.22,888.3 487.62,888.3 H488.05 Q491.45,888.3 491.45,891.7 V972.5 Z" fill="#3f3f3f" fill-opacity="0.6"/>
<path d="M491.45,972.5 V931.3 Q491.45,927.9 494.85,927.9 H495.27 Q498.67,927.9 498.67,931.3 V972.5 Z" fill="#3f3f3f" fill-opacity="0.6"/>
<path d="M498.67,972.5 V949.0 Q498.67,945.6 502.07,945.6 H502.50 Q505.90,945.6 505.90,949.0 V972.5 Z" fill="#3f3f3f" fill-opacity="0.6"/>
<path d="M513.12,972.5 V954.4 Q513.12,951.0 516.52,951.0 H516.95 Q520.35,951.0 520.35,954.4 V972.5 Z" fill="#3f3f3f" fill-opacity="0.6"/>
<path d="M520.35,972.5 V925.1 Q520.35,921.7 523.75,921.7 H524.18 Q527.58,921.7 527.58,925.1 V972.5 Z" fill="#3f3f3f" fill-opacity="0.6"/>
<path d="M527.58,972.5 V923.4 Q527.58,920.0 530.98,920.0 H531.40 Q534.80,920.0 534.80,923.4 V972.5 Z" fill="#3f3f3f" fill-opacity="0.6"/>
<path d="M534.80,972.5 V858.4 Q534.80,855.0 538.20,855.0 H538.63 Q542.03,855.0 542.03,858.4 V972.5 Z" fill="#3f3f3f" fill-opacity="0.6"/>
<path d="M542.03,972.5 V858.4 Q542.03,855.0 545.43,855.0 H545.86 Q549.25,855.0 549.25,858.4 V972.5 Z" fill="#3f3f3f" fill-opacity="0.6"/>
<path d="M549.25,972.5 V858.4 Q549.25,855.0 552.65,855.0 H553.08 Q556.48,855.0 556.48,858.4 V972.5 Z" fill="#3f3f3f" fill-opacity="0.6"/>
<path d="M556.48,972.5 V875.3 Q556.48,871.9 559.88,871.9 H560.31 Q563.71,871.9 563.71,875.3 V972.5 Z" fill="#3f3f3f" fill-opacity="0.6"/>
<path d="M563.71,972.5 V858.4 Q563.71,855.0 567.11,855.0 H567.53 Q570.93,855.0 570.93,858.4 V972.5 Z" fill="#3f3f3f" fill-opacity="0.6"/>
<path d="M570.93,972.5 V858.4 Q570.93,855.0 574.33,855.0 H574.76 Q578.16,855.0 578.16,858.4 V972.5 Z" fill="#3f3f3f" fill-opacity="0.6"/>
<path d="M578.16,972.5 V885.6 Q578.16,882.2 581.56,882.2 H581.99 Q585.38,882.2 585.38,885.6 V972.5 Z" fill="#3f3f3f" fill-opacity="0.6"/>
<path d="M585.38,972.5 V878.4 Q585.38,875.0 588.78,875.0 H589.21 Q592.61,875.0 592.61,878.4 V972.5 Z" fill="#3f3f3f" fill-opacity="0.6"/>
<path d="M592.61,972.5 V894.1 Q592.61,890.7 596.01,890.7 H596.44 Q599.84,890.7 599.84,894.1 V972.5 Z" fill="#3f3f3f" fill-opacity="0.6"/>
<path d="M599.84,972.5 V968.4 Q599.84,965.0 603.24,965.0 H603.66 Q607.06,965.0 607.06,968.4 V972.5 Z" fill="#3f3f3f" fill-opacity="0.6"/>
<path d="M607.06,972.5 V936.5 Q607.06,933.1 610.46,933.1 H610.89 Q614.29,933.1 614.29,936.5 V972.5 Z" fill="#3f3f3f" fill-opacity="0.6"/>
<path d="M614.29,972.5 V936.5 Q614.29,933.1 617.69,933.1 H618.12 Q621.51,933.1 621.51,936.5 V972.5 Z" fill="#3f3f3f" fill-opacity="0.6"/>
<path d="M621.51,972.5 V913.9 Q621.51,910.5 624.91,910.5 H625.34 Q628.74,910.5 628.74,913.9 V972.5 Z" fill="#3f3f3f" fill-opacity="0.6"/>
<path d="M628.74,972.5 V886.2 Q628.74,882.8 632.14,882.8 H632.57 Q635.97,882.8 635.97,886.2 V972.5 Z" fill="#3f3f3f" fill-opacity="0.6"/>
<path d="M635.97,972.5 V896.5 Q635.97,893.1 639.37,893.1 H639.79 Q643.19,893.1 643.19,896.5 V972.5 Z" fill="#3f3f3f" fill-opacity="0.6"/>
<path d="M57.89,972.5 V969.9 Q57.89,967.3 60.49,967.3 H62.51 Q65.11,967.3 65.11,969.9 V972.5 Z" fill="#1e93e9" fill-opacity="0.6"/>
<path d="M65.11,972.5 V954.9 Q65.11,951.5 68.51,951.5 H68.94 Q72.34,951.5 72.34,954.9 V972.5 Z" fill="#1e93e9" fill-opacity="0.6"/>
<path d="M72.34,972.5 V870.5 Q72.34,867.1 75.74,867.1 H76.16 Q79.56,867.1 79.56,870.5 V972.5 Z" fill="#1e93e9" fill-opacity="0.6"/>
<path d="M79.56,972.5 V867.1 Q79.56,863.7 82.97,863.7 H83.39 Q86.79,863.7 86.79,867.1 V972.5 Z" fill="#1e93e9" fill-opacity="0.6"/>
<path d="M94.02,972.5 V935.1 Q94.02,931.7 97.42,931.7 H97.84 Q101.24,931.7 101.24,935.1 V972.5 Z" fill="#1e93e9" fill-opacity="0.6"/>
<path d="M101.24,972.5 V876.1 Q101.24,872.7 104.64,872.7 H105.07 Q108.47,872.7 108.47,876.1 V972.5 Z" fill="#1e93e9" fill-opacity="0.6"/>
<path d="M108.47,972.5 V913.3 Q108.47,909.9 111.87,909.9 H112.29 Q115.69,909.9 115.69,913.3 V972.5 Z" fill="#1e93e9" fill-opacity="0.6"/>
<path d="M115.69,972.5 V933.5 Q115.69,930.1 119.09,930.1 H119.52 Q122.92,930.1 122.92,933.5 V972.5 Z" fill="#1e93e9" fill-opacity="0.6"/>
<path d="M122.92,972.5 V967.3 Q122.92,963.9 126.32,963.9 H126.75 Q130.15,963.9 130.15,967.3 V972.5 Z" fill="#1e93e9" fill-opacity="0.6"/>
<path d="M130.15,972.5 V890.7 Q130.15,887.3 133.55,887.3 H133.97 Q137.37,887.3 137.37,890.7 V972.5 Z" fill="#1e93e9" fill-opacity="0.6"/>
<path d="M137.37,972.5 V876.1 Q137.37,872.7 140.77,872.7 H141.20 Q144.60,872.7 144.60,876.1 V972.5 Z" fill="#1e93e9" fill-opacity="0.6"/>
<path d="M144.60,972.5 V882.2 Q144.60,878.8 148.00,878.8 H148.42 Q151.82,878.8 151.82,882.2 V972.5 Z" fill="#1e93e9" fill-opacity="0.6"/>
<path d="M151.82,972.5 V905.4 Q151.82,902.0 155.22,902.0 H155.65 Q159.05,902.0 159.05,905.4 V972.5 Z" fill="#1e93e9" fill-opacity="0.6"/>
<path d="M159.05,972.5 V908.4 Q159.05,905.0 162.45,905.0 H162.88 Q166.28,905.0 166.28,908.4 V972.5 Z" fill="#1e93e9" fill-opacity="0.6"/>
<path d="M166.28,972.5 V858.4 Q166.28,855.0 169.68,855.0 H170.10 Q173.50,855.0 173.50,858.4 V972.5 Z" fill="#1e93e9" fill-opacity="0.6"/>
<path d="M173.50,972.5 V858.4 Q173.50,855.0 176.90,855.0 H177.33 Q180.73,855.0 180.73,858.4 V972.5 Z" fill="#1e93e9" fill-opacity="0.6"/>
<path d="M180.73,972.5 V858.4 Q180.73,855.0 184.13,855.0 H184.55 Q187.95,855.0 187.95,858.4 V972.5 Z" fill="#1e93e9" fill-opacity="0.6"/>
<path d="M187.96,972.5 V858.4 Q187.96,855.0 191.36,855.0 H191.78 Q195.18,855.0 195.18,858.4 V972.5 Z" fill="#1e93e9" fill-opacity="0.6"/>
<path d="M195.18,972.5 V871.6 Q195.18,868.2 198.58,868.2 H199.01 Q202.41,868.2 202.41,871.6 V972.5 Z" fill="#1e93e9" fill-opacity="0.6"/>
<path d="M202.41,972.5 V867.1 Q202.41,863.7 205.81,863.7 H206.23 Q209.63,863.7 209.63,867.1 V972.5 Z" fill="#1e93e9" fill-opacity="0.6"/>
<path d="M274.67,972.5 V949.2 Q274.67,945.8 278.07,945.8 H278.49 Q281.89,945.8 281.89,949.2 V972.5 Z" fill="#1e93e9" fill-opacity="0.6"/>
<path d="M281.89,972.5 V970.0 Q281.89,967.5 284.38,967.5 H286.63 Q289.12,967.5 289.12,970.0 V972.5 Z" fill="#1e93e9" fill-opacity="0.6"/>
<path d="M303.57,972.5 V971.3 Q303.57,970.1 304.77,970.1 H309.60 Q310.80,970.1 310.80,971.3 V972.5 Z" fill="#1e93e9" fill-opacity="0.6"/>
<path d="M332.48,972.5 V938.0 Q332.48,934.6 335.88,934.6 H336.30 Q339.70,934.6 339.70,938.0 V972.5 Z" fill="#1e93e9" fill-opacity="0.6"/>
<path d="M339.70,972.5 V893.0 Q339.70,889.6 343.10,889.6 H343.53 Q346.93,889.6 346.93,893.0 V972.5 Z" fill="#1e93e9" fill-opacity="0.6"/>
<path d="M346.93,972.5 V872.1 Q346.93,868.7 350.33,868.7 H350.75 Q354.15,868.7 354.15,872.1 V972.5 Z" fill="#1e93e9" fill-opacity="0.6"/>
<path d="M354.15,972.5 V858.4 Q354.15,855.0 357.55,855.0 H357.98 Q361.38,855.0 361.38,858.4 V972.5 Z" fill="#1e93e9" fill-opacity="0.6"/>
<path d="M361.38,972.5 V873.9 Q361.38,870.5 364.78,870.5 H365.21 Q368.61,870.5 368.61,873.9 V972.5 Z" fill="#1e93e9" fill-opacity="0.6"/>
<path d="M368.61,972.5 V878.4 Q368.61,875.0 372.00,875.0 H372.43 Q375.83,875.0 375.83,878.4 V972.5 Z" fill="#1e93e9" fill-opacity="0.6"/>
<path d="M375.83,972.5 V858.4 Q375.83,855.0 379.23,855.0 H379.66 Q383.06,855.0 383.06,858.4 V972.5 Z" fill="#1e93e9" fill-opacity="0.6"/>
<path d="M419.19,972.5 V919.8 Q419.19,916.4 422.59,916.4 H423.01 Q426.41,916.4 426.41,919.8 V972.5 Z" fill="#1e93e9" fill-opacity="0.6"/>
<path d="M426.41,972.5 V944.8 Q426.41,941.4 429.81,941.4 H430.24 Q433.64,941.4 433.64,944.8 V972.5 Z" fill="#1e93e9" fill-opacity="0.6"/>
<path d="M433.64,972.5 V877.0 Q433.64,873.6 437.04,873.6 H437.47 Q440.87,873.6 440.87,877.0 V972.5 Z" fill="#1e93e9" fill-opacity="0.6"/>
<path d="M440.87,972.5 V865.3 Q440.87,861.9 444.26,861.9 H444.69 Q448.09,861.9 448.09,865.3 V972.5 Z" fill="#1e93e9" fill-opacity="0.6"/>
<path d="M448.09,972.5 V867.9 Q448.09,864.5 451.49,864.5 H451.92 Q455.32,864.5 455.32,867.9 V972.5 Z" fill="#1e93e9" fill-opacity="0.6"/>
<path d="M534.80,972.5 V858.4 Q534.80,855.0 538.20,855.0 H538.63 Q542.03,855.0 542.03,858.4 V972.5 Z" fill="#1e93e9" fill-opacity="0.6"/>
<path d="M542.03,972.5 V858.4 Q542.03,855.0 545.43,855.0 H545.86 Q549.25,855.0 549.25,858.4 V972.5 Z" fill="#1e93e9" fill-opacity="0.6"/>
<path d="M549.25,972.5 V858.4 Q549.25,855.0 552.65,855.0 H553.08 Q556.48,855.0 556.48,858.4 V972.5 Z" fill="#1e93e9" fill-opacity="0.6"/>
<path d="M556.48,972.5 V883.7 Q556.48,880.3 559.88,880.3 H560.31 Q563.71,880.3 563.71,883.7 V972.5 Z" fill="#1e93e9" fill-opacity="0.6"/>
<path d="M563.71,972.5 V858.4 Q563.71,855.0 567.11,855.0 H567.53 Q570.93,855.0 570.93,858.4 V972.5 Z" fill="#1e93e9" fill-opacity="0.6"/>
<path d="M585.38,972.5 V886.8 Q585.38,883.4 588.78,883.4 H589.21 Q592.61,883.4 592.61,886.8 V972.5 Z" fill="#1e93e9" fill-opacity="0.6"/>
<path d="M592.61,972.5 V898.6 Q592.61,895.2 596.01,895.2 H596.44 Q599.84,895.2 599.84,898.6 V972.5 Z" fill="#1e93e9" fill-opacity="0.6"/>
<path d="M614.29,972.5 V943.7 Q614.29,940.3 617.69,940.3 H618.12 Q621.51,940.3 621.51,943.7 V972.5 Z" fill="#1e93e9" fill-opacity="0.6"/>
<path d="M621.51,972.5 V932.6 Q621.51,929.2 624.91,929.2 H625.34 Q628.74,929.2 628.74,932.6 V972.5 Z" fill="#1e93e9" fill-opacity="0.6"/>
<path d="M628.74,972.5 V891.3 Q628.74,887.9 632.14,887.9 H632.57 Q635.97,887.9 635.97,891.3 V972.5 Z" fill="#1e93e9" fill-opacity="0.6"/>
<path d="M72.34,972.5 V968.4 Q72.34,965.0 75.74,965.0 H76.16 Q79.56,965.0 79.56,968.4 V972.5 Z" fill="#1b7e1d" fill-opacity="0.6"/>
<path d="M79.56,972.5 V936.9 Q79.56,933.5 82.97,933.5 H83.39 Q86.79,933.5 86.79,936.9 V972.5 Z" fill="#1b7e1d" fill-opacity="0.6"/>
<path d="M86.79,972.5 V964.4 Q86.79,961.0 90.19,961.0 H90.62 Q94.02,961.0 94.02,964.4 V972.5 Z" fill="#1b7e1d" fill-opacity="0.6"/>
<path d="M94.02,972.5 V970.2 Q94.02,967.9 96.34,967.9 H98.92 Q101.24,967.9 101.24,970.2 V972.5 Z" fill="#1b7e1d" fill-opacity="0.6"/>
<path d="M101.24,972.5 V971.0 Q101.24,969.5 102.72,969.5 H106.99 Q108.47,969.5 108.47,971.0 V972.5 Z" fill="#1b7e1d" fill-opacity="0.6"/>
<path d="M115.69,972.5 V942.5 Q115.69,939.1 119.09,939.1 H119.52 Q122.92,939.1 122.92,942.5 V972.5 Z" fill="#1b7e1d" fill-opacity="0.6"/>
<path d="M151.82,972.5 V965.4 Q151.82,962.0 155.22,962.0 H155.65 Q159.05,962.0 159.05,965.4 V972.5 Z" fill="#1b7e1d" fill-opacity="0.6"/>
<path d="M159.05,972.5 V968.4 Q159.05,965.0 162.45,965.0 H162.88 Q166.28,965.0 166.28,968.4 V972.5 Z" fill="#1b7e1d" fill-opacity="0.6"/>
<path d="M166.28,972.5 V933.0 Q166.28,929.6 169.68,929.6 H170.10 Q173.50,929.6 173.50,933.0 V972.5 Z" fill="#1b7e1d" fill-opacity="0.6"/>
<path d="M173.50,972.5 V903.6 Q173.50,900.2 176.90,900.2 H177.33 Q180.73,900.2 180.73,903.6 V972.5 Z" fill="#1b7e1d" fill-opacity="0.6"/>
<path d="M180.73,972.5 V876.1 Q180.73,872.7 184.13,872.7 H184.55 Q187.95,872.7 187.95,876.1 V972.5 Z" fill="#1b7e1d" fill-opacity="0.6"/>
<path d="M187.96,972.5 V871.7 Q187.96,868.3 191.36,868.3 H191.78 Q195.18,868.3 195.18,871.7 V972.5 Z" fill="#1b7e1d" fill-opacity="0.6"/>
<path d="M195.18,972.5 V871.6 Q195.18,868.2 198.58,868.2 H199.01 Q202.41,868.2 202.41,871.6 V972.5 Z" fill="#1b7e1d" fill-opacity="0.6"/>
<path d="M202.41,972.5 V900.2 Q202.41,896.8 205.81,896.8 H206.23 Q209.63,896.8 209.63,900.2 V972.5 Z" fill="#1b7e1d" fill-opacity="0.6"/>
<path d="M209.63,972.5 V881.3 Q209.63,877.9 213.03,877.9 H213.46 Q216.86,877.9 216.86,881.3 V972.5 Z" fill="#1b7e1d" fill-opacity="0.6"/>
<path d="M216.86,972.5 V949.1 Q216.86,945.7 220.26,945.7 H220.69 Q224.09,945.7 224.09,949.1 V972.5 Z" fill="#1b7e1d" fill-opacity="0.6"/>
<path d="M231.31,972.5 V969.7 Q231.31,967.0 234.08,967.0 H235.77 Q238.54,967.0 238.54,969.7 V972.5 Z" fill="#1b7e1d" fill-opacity="0.6"/>
<path d="M238.54,972.5 V970.3 Q238.54,968.2 240.69,968.2 H243.61 Q245.76,968.2 245.76,970.3 V972.5 Z" fill="#1b7e1d" fill-opacity="0.6"/>
<path d="M245.76,972.5 V970.6 Q245.76,968.8 247.63,968.8 H251.12 Q252.99,968.8 252.99,970.6 V972.5 Z" fill="#1b7e1d" fill-opacity="0.6"/>
<path d="M252.99,972.5 V970.6 Q252.99,968.8 254.86,968.8 H258.34 Q260.21,968.8 260.21,970.6 V972.5 Z" fill="#1b7e1d" fill-opacity="0.6"/>
<path d="M260.21,972.5 V880.6 Q260.21,877.2 263.61,877.2 H264.04 Q267.44,877.2 267.44,880.6 V972.5 Z" fill="#1b7e1d" fill-opacity="0.6"/>
<path d="M267.44,972.5 V858.4 Q267.44,855.0 270.84,855.0 H271.27 Q274.67,855.0 274.67,858.4 V972.5 Z" fill="#1b7e1d" fill-opacity="0.6"/>
<path d="M274.67,972.5 V959.4 Q274.67,956.0 278.07,956.0 H278.49 Q281.89,956.0 281.89,959.4 V972.5 Z" fill="#1b7e1d" fill-opacity="0.6"/>
<path d="M296.34,972.5 V970.7 Q296.34,969.0 298.10,969.0 H301.81 Q303.57,969.0 303.57,970.7 V972.5 Z" fill="#1b7e1d" fill-opacity="0.6"/>
<path d="M318.02,972.5 V952.7 Q318.02,949.3 321.42,949.3 H321.85 Q325.25,949.3 325.25,952.7 V972.5 Z" fill="#1b7e1d" fill-opacity="0.6"/>
<path d="M325.25,972.5 V928.2 Q325.25,924.8 328.65,924.8 H329.08 Q332.48,924.8 332.48,928.2 V972.5 Z" fill="#1b7e1d" fill-opacity="0.6"/>
<path d="M332.48,972.5 V967.3 Q332.48,963.9 335.88,963.9 H336.30 Q339.70,963.9 339.70,967.3 V972.5 Z" fill="#1b7e1d" fill-opacity="0.6"/>
<path d="M354.15,972.5 V870.9 Q354.15,867.5 357.55,867.5 H357.98 Q361.38,867.5 361.38,870.9 V972.5 Z" fill="#1b7e1d" fill-opacity="0.6"/>
<path d="M361.38,972.5 V936.1 Q361.38,932.7 364.78,932.7 H365.21 Q368.61,932.7 368.61,936.1 V972.5 Z" fill="#1b7e1d" fill-opacity="0.6"/>
<path d="M368.61,972.5 V934.9 Q368.61,931.5 372.00,931.5 H372.43 Q375.83,931.5 375.83,934.9 V972.5 Z" fill="#1b7e1d" fill-opacity="0.6"/>
<path d="M375.83,972.5 V873.4 Q375.83,870.0 379.23,870.0 H379.66 Q383.06,870.0 383.06,873.4 V972.5 Z" fill="#1b7e1d" fill-opacity="0.6"/>
<path d="M383.06,972.5 V909.9 Q383.06,906.5 386.46,906.5 H386.88 Q390.28,906.5 390.28,909.9 V972.5 Z" fill="#1b7e1d" fill-opacity="0.6"/>
<path d="M390.28,972.5 V886.2 Q390.28,882.8 393.68,882.8 H394.11 Q397.51,882.8 397.51,886.2 V972.5 Z" fill="#1b7e1d" fill-opacity="0.6"/>
<path d="M397.51,972.5 V911.7 Q397.51,908.3 400.91,908.3 H401.34 Q404.74,908.3 404.74,911.7 V972.5 Z" fill="#1b7e1d" fill-opacity="0.6"/>
<path d="M448.09,972.5 V969.3 Q448.09,966.2 451.26,966.2 H452.15 Q455.32,966.2 455.32,969.3 V972.5 Z" fill="#1b7e1d" fill-opacity="0.6"/>
<path d="M455.32,972.5 V871.5 Q455.32,868.1 458.72,868.1 H459.14 Q462.54,868.1 462.54,871.5 V972.5 Z" fill="#1b7e1d" fill-opacity="0.6"/>
<path d="M462.54,972.5 V866.0 Q462.54,862.6 465.94,862.6 H466.37 Q469.77,862.6 469.77,866.0 V972.5 Z" fill="#1b7e1d" fill-opacity="0.6"/>
<path d="M469.77,972.5 V880.1 Q469.77,876.7 473.17,876.7 H473.60 Q477.00,876.7 477.00,880.1 V972.5 Z" fill="#1b7e1d" fill-opacity="0.6"/>
<path d="M477.00,972.5 V895.3 Q477.00,891.9 480.39,891.9 H480.82 Q484.22,891.9 484.22,895.3 V972.5 Z" fill="#1b7e1d" fill-opacity="0.6"/>
<path d="M484.22,972.5 V891.7 Q484.22,888.3 487.62,888.3 H488.05 Q491.45,888.3 491.45,891.7 V972.5 Z" fill="#1b7e1d" fill-opacity="0.6"/>
<path d="M491.45,972.5 V931.3 Q491.45,927.9 494.85,927.9 H495.27 Q498.67,927.9 498.67,931.3 V972.5 Z" fill="#1b7e1d" fill-opacity="0.6"/>
<path d="M549.25,972.5 V872.1 Q549.25,868.7 552.65,868.7 H553.08 Q556.48,868.7 556.48,872.1 V972.5 Z" fill="#1b7e1d" fill-opacity="0.6"/>
<path d="M556.48,972.5 V886.2 Q556.48,882.8 559.88,882.8 H560.31 Q563.71,882.8 563.71,886.2 V972.5 Z" fill="#1b7e1d" fill-opacity="0.6"/>
<path d="M563.71,972.5 V885.6 Q563.71,882.2 567.11,882.2 H567.53 Q570.93,882.2 570.93,885.6 V972.5 Z" fill="#1b7e1d" fill-opacity="0.6"/>
<path d="M570.93,972.5 V858.4 Q570.93,855.0 574.33,855.0 H574.76 Q578.16,855.0 578.16,858.4 V972.5 Z" fill="#1b7e1d" fill-opacity="0.6"/>
<path d="M578.16,972.5 V889.6 Q578.16,886.2 581.56,886.2 H581.99 Q585.38,886.2 585.38,889.6 V972.5 Z" fill="#1b7e1d" fill-opacity="0.6"/>
<path d="M585.38,972.5 V897.8 Q585.38,894.4 588.78,894.4 H589.21 Q592.61,894.4 592.61,897.8 V972.5 Z" fill="#1b7e1d" fill-opacity="0.6"/>
<path d="M592.61,972.5 V946.1 Q592.61,942.7 596.01,942.7 H596.44 Q599.84,942.7 599.84,946.1 V972.5 Z" fill="#1b7e1d" fill-opacity="0.6"/>
<path d="M607.06,972.5 V953.2 Q607.06,949.8 610.46,949.8 H610.89 Q614.29,949.8 614.29,953.2 V972.5 Z" fill="#1b7e1d" fill-opacity="0.6"/>
<path d="M621.51,972.5 V951.3 Q621.51,947.9 624.91,947.9 H625.34 Q628.74,947.9 628.74,951.3 V972.5 Z" fill="#1b7e1d" fill-opacity="0.6"/>
<path d="M628.74,972.5 V959.0 Q628.74,955.6 632.14,955.6 H632.57 Q635.97,955.6 635.97,959.0 V972.5 Z" fill="#1b7e1d" fill-opacity="0.6"/>
<path d="M195.18,972.5 V945.2 Q195.18,941.8 198.58,941.8 H199.01 Q202.41,941.8 202.41,945.2 V972.5 Z" fill="#b48c26" fill-opacity="0.88"/>
<path d="M202.41,972.5 V936.9 Q202.41,933.5 205.81,933.5 H206.23 Q209.63,933.5 209.63,936.9 V972.5 Z" fill="#b48c26" fill-opacity="0.88"/>
<path d="M260.21,972.5 V913.6 Q260.21,910.2 263.61,910.2 H264.04 Q267.44,910.2 267.44,913.6 V972.5 Z" fill="#b48c26" fill-opacity="0.88"/>
<path d="M267.44,972.5 V933.8 Q267.44,930.4 270.84,930.4 H271.27 Q274.67,930.4 274.67,933.8 V972.5 Z" fill="#b48c26" fill-opacity="0.88"/>
<path d="M375.83,972.5 V971.3 Q375.83,970.1 377.03,970.1 H381.86 Q383.06,970.1 383.06,971.3 V972.5 Z" fill="#b48c26" fill-opacity="0.88"/>
<path d="M383.06,972.5 V969.7 Q383.06,967.0 385.83,967.0 H387.51 Q390.28,967.0 390.28,969.7 V972.5 Z" fill="#b48c26" fill-opacity="0.88"/>
<path d="M390.28,972.5 V941.6 Q390.28,938.2 393.68,938.2 H394.11 Q397.51,938.2 397.51,941.6 V972.5 Z" fill="#b48c26" fill-opacity="0.88"/>
<path d="M397.51,972.5 V933.1 Q397.51,929.7 400.91,929.7 H401.34 Q404.74,929.7 404.74,933.1 V972.5 Z" fill="#b48c26" fill-opacity="0.88"/>
<path d="M419.19,972.5 V928.2 Q419.19,924.8 422.59,924.8 H423.01 Q426.41,924.8 426.41,928.2 V972.5 Z" fill="#b48c26" fill-opacity="0.88"/>
<path d="M426.41,972.5 V950.4 Q426.41,947.0 429.81,947.0 H430.24 Q433.64,947.0 433.64,950.4 V972.5 Z" fill="#b48c26" fill-opacity="0.88"/>
<path d="M440.87,972.5 V966.2 Q440.87,962.8 444.26,962.8 H444.69 Q448.09,962.8 448.09,966.2 V972.5 Z" fill="#b48c26" fill-opacity="0.88"/>
<path d="M448.09,972.5 V969.9 Q448.09,967.3 450.69,967.3 H452.71 Q455.32,967.3 455.32,969.9 V972.5 Z" fill="#b48c26" fill-opacity="0.88"/>
<path d="M498.67,972.5 V959.3 Q498.67,955.9 502.07,955.9 H502.50 Q505.90,955.9 505.90,959.3 V972.5 Z" fill="#b48c26" fill-opacity="0.88"/>
<path d="M513.12,972.5 V954.4 Q513.12,951.0 516.52,951.0 H516.95 Q520.35,951.0 520.35,954.4 V972.5 Z" fill="#b48c26" fill-opacity="0.88"/>
<path d="M520.35,972.5 V925.1 Q520.35,921.7 523.75,921.7 H524.18 Q527.58,921.7 527.58,925.1 V972.5 Z" fill="#b48c26" fill-opacity="0.88"/>
<path d="M527.58,972.5 V932.0 Q527.58,928.6 530.98,928.6 H531.40 Q534.80,928.6 534.80,932.0 V972.5 Z" fill="#b48c26" fill-opacity="0.88"/>
<path d="M534.80,972.5 V932.0 Q534.80,928.6 538.20,928.6 H538.63 Q542.03,928.6 542.03,932.0 V972.5 Z" fill="#b48c26" fill-opacity="0.88"/>
<path d="M542.03,972.5 V872.1 Q542.03,868.7 545.43,868.7 H545.86 Q549.25,868.7 549.25,872.1 V972.5 Z" fill="#b48c26" fill-opacity="0.88"/>
<path d="M549.25,972.5 V944.1 Q549.25,940.7 552.65,940.7 H553.08 Q556.48,940.7 556.48,944.1 V972.5 Z" fill="#b48c26" fill-opacity="0.88"/>
<path d="M556.48,972.5 V970.1 Q556.48,967.6 558.91,967.6 H561.27 Q563.71,967.6 563.71,970.1 V972.5 Z" fill="#b48c26" fill-opacity="0.88"/>
<path d="M563.71,972.5 V968.1 Q563.71,964.7 567.11,964.7 H567.53 Q570.93,964.7 570.93,968.1 V972.5 Z" fill="#b48c26" fill-opacity="0.88"/>
<path d="M570.93,972.5 V969.3 Q570.93,966.2 574.10,966.2 H574.99 Q578.16,966.2 578.16,969.3 V972.5 Z" fill="#b48c26" fill-opacity="0.88"/>
<path d="M578.16,972.5 V969.3 Q578.16,966.2 581.32,966.2 H582.22 Q585.38,966.2 585.38,969.3 V972.5 Z" fill="#b48c26" fill-opacity="0.88"/>
<path d="M585.38,972.5 V953.2 Q585.38,949.8 588.78,949.8 H589.21 Q592.61,949.8 592.61,953.2 V972.5 Z" fill="#b48c26" fill-opacity="0.88"/>
<path d="M592.61,972.5 V970.5 Q592.61,968.4 594.65,968.4 H597.80 Q599.84,968.4 599.84,970.5 V972.5 Z" fill="#b48c26" fill-opacity="0.88"/>
<path d="M599.84,972.5 V970.5 Q599.84,968.4 601.88,968.4 H605.02 Q607.06,968.4 607.06,970.5 V972.5 Z" fill="#b48c26" fill-opacity="0.88"/>
<path d="M607.06,972.5 V969.9 Q607.06,967.3 609.66,967.3 H611.69 Q614.29,967.3 614.29,969.9 V972.5 Z" fill="#b48c26" fill-opacity="0.88"/>
<path d="M614.29,972.5 V969.3 Q614.29,966.2 617.45,966.2 H618.35 Q621.51,966.2 621.51,969.3 V972.5 Z" fill="#b48c26" fill-opacity="0.88"/>
<path d="M621.51,972.5 V969.3 Q621.51,966.2 624.68,966.2 H625.58 Q628.74,966.2 628.74,969.3 V972.5 Z" fill="#b48c26" fill-opacity="0.88"/>
<path d="M628.74,972.5 V966.2 Q628.74,962.8 632.14,962.8 H632.57 Q635.97,962.8 635.97,966.2 V972.5 Z" fill="#b48c26" fill-opacity="0.88"/>
<path d="M635.97,972.5 V917.2 Q635.97,913.8 639.37,913.8 H639.79 Q643.19,913.8 643.19,917.2 V972.5 Z" fill="#b48c26" fill-opacity="0.88"/>
<path d="M390.28,972.5 V949.6 Q390.28,946.2 393.68,946.2 H394.11 Q397.51,946.2 397.51,949.6 V972.5 Z" fill="#cf3020" fill-opacity="0.9"/>
<path d="M397.51,972.5 V945.9 Q397.51,942.5 400.91,942.5 H401.34 Q404.74,942.5 404.74,945.9 V972.5 Z" fill="#cf3020" fill-opacity="0.9"/>
<path d="M404.74,972.5 V897.6 Q404.74,894.2 408.13,894.2 H408.56 Q411.96,894.2 411.96,897.6 V972.5 Z" fill="#cf3020" fill-opacity="0.9"/>
<path d="M411.96,972.5 V896.6 Q411.96,893.2 415.36,893.2 H415.79 Q419.19,893.2 419.19,896.6 V972.5 Z" fill="#cf3020" fill-opacity="0.9"/>
<path d="M419.19,972.5 V938.5 Q419.19,935.1 422.59,935.1 H423.01 Q426.41,935.1 426.41,938.5 V972.5 Z" fill="#cf3020" fill-opacity="0.9"/>
<path d="M426.41,972.5 V969.7 Q426.41,967.0 429.18,967.0 H430.87 Q433.64,967.0 433.64,969.7 V972.5 Z" fill="#cf3020" fill-opacity="0.9"/>
<path d="M563.71,972.5 V969.9 Q563.71,967.3 566.31,967.3 H568.33 Q570.93,967.3 570.93,969.9 V972.5 Z" fill="#cf3020" fill-opacity="0.9"/>
<path d="M628.74,972.5 V969.6 Q628.74,966.7 631.62,966.7 H633.08 Q635.97,966.7 635.97,969.6 V972.5 Z" fill="#cf3020" fill-opacity="0.9"/>
<path d="M635.97,972.5 V969.6 Q635.97,966.7 638.85,966.7 H640.31 Q643.19,966.7 643.19,969.6 V972.5 Z" fill="#cf3020" fill-opacity="0.9"/>
</g>
<rect x="58.0" y="971.20" width="585.5" height="1.6" fill="#000" fill-opacity="0.58"/>
<text x="62.5" y="982.3" font-size="11" fill="#444" text-anchor="start">Tue</text>
<text x="106.1" y="982.3" font-size="11" fill="#444" text-anchor="start">Wed</text>
<text x="163.9" y="982.3" font-size="11" fill="#444" text-anchor="start">Thu</text>
<text x="221.7" y="982.3" font-size="11" fill="#444" text-anchor="start">Fri</text>
<text x="279.5" y="982.3" font-size="11" fill="#444" text-anchor="start">Sat</text>
<text x="337.3" y="982.3" font-size="11" fill="#444" text-anchor="start">Sun</text>
<text x="395.1" y="982.3" font-size="11" fill="#444" text-anchor="start">Mon</text>
<text x="452.9" y="982.3" font-size="11" fill="#444" text-anchor="start">Tue</text>
<text x="510.7" y="982.3" font-size="11" fill="#444" text-anchor="start">Wed</text>
<text x="568.5" y="982.3" font-size="11" fill="#444" text-anchor="start">Thu</text>
<text x="626.3" y="982.3" font-size="11" fill="#444" text-anchor="start">Fri</text>
<circle cx="113.2" cy="994.6" r="3.2" fill="#777"/>
<text x="126.0" y="997.0" font-size="14.3" fill="#3a3a3a" text-anchor="start" textLength="128.7" lengthAdjust="spacingAndGlyphs">Total cloud cover (%)</text>
<circle cx="288.4" cy="994.6" r="3.2" fill="#8ac4ea"/>
<text x="301.0" y="997.0" font-size="14.3" fill="#3a3a3a" text-anchor="start" textLength="27.0" lengthAdjust="spacingAndGlyphs">High</text>
<circle cx="363.9" cy="994.6" r="3.2" fill="#6aaa7a"/>
<text x="375.5" y="997.0" font-size="14.3" fill="#3a3a3a" text-anchor="start" textLength="23.2" lengthAdjust="spacingAndGlyphs">Mid</text>
<circle cx="431.7" cy="994.6" r="3.2" fill="#c4a850"/>
<text x="445.2" y="997.0" font-size="14.3" fill="#3a3a3a" text-anchor="start" textLength="25.2" lengthAdjust="spacingAndGlyphs">Low</text>
<circle cx="504.0" cy="994.6" r="3.2" fill="#d04030"/>
<text x="517.0" y="997.0" font-size="14.3" fill="#3a3a3a" text-anchor="start" textLength="81.3" lengthAdjust="spacingAndGlyphs">Boundary Lyr</text>
</svg>
</body></html>
